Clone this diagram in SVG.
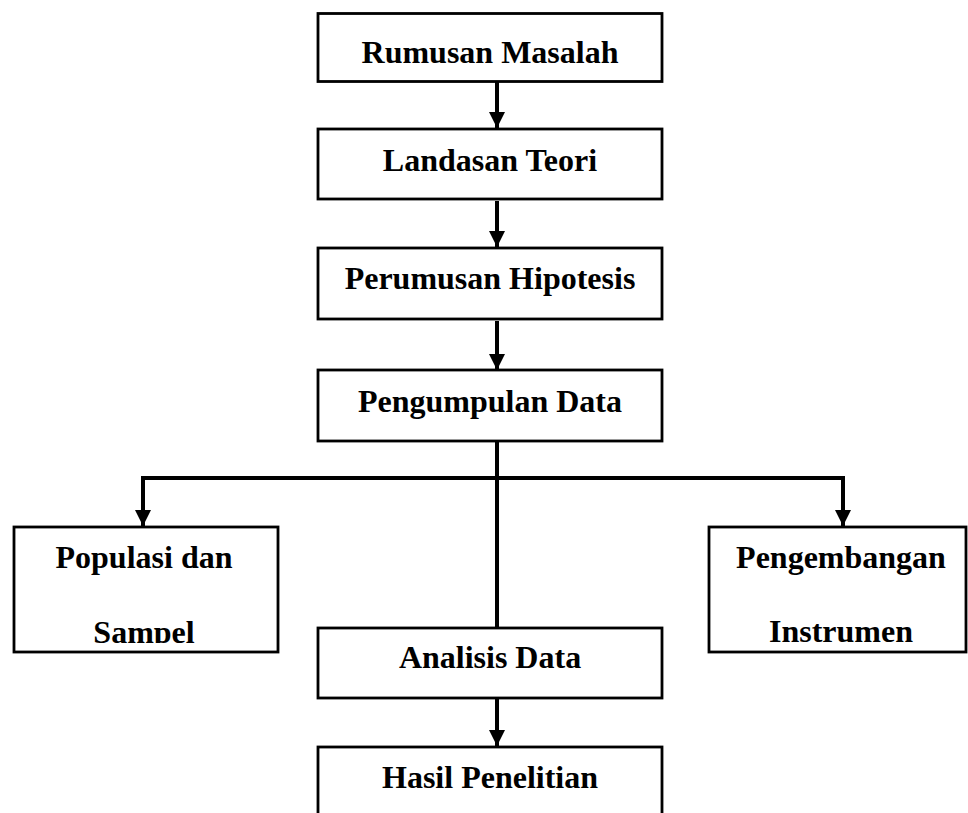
<svg xmlns="http://www.w3.org/2000/svg" width="968" height="813" viewBox="0 0 968 813">
<style>
.box{fill:#fff;stroke:#000;stroke-width:2.8}
.lbl{font-family:"Liberation Serif","Times New Roman",serif;font-weight:bold;font-size:32px;fill:#000;text-anchor:middle}
.con{fill:none;stroke:#000;stroke-width:4}
</style>
<defs>
<marker id="ah" markerUnits="userSpaceOnUse" markerWidth="16" markerHeight="16" refX="16" refY="8" orient="auto">
<path d="M0,0 L16,8 L0,16 Z" fill="#000"/>
</marker>
<clipPath id="clipL"><rect x="0" y="520" width="300" height="123"/></clipPath>
<clipPath id="clipR"><rect x="700" y="520" width="268" height="123"/></clipPath>
</defs>
<rect width="968" height="813" fill="#fff"/>
<g id="connectors">
<line class="con" x1="497" y1="82" x2="497" y2="128" marker-end="url(#ah)"/>
<line class="con" x1="497" y1="201" x2="497" y2="247" marker-end="url(#ah)"/>
<line class="con" x1="497" y1="321" x2="497" y2="370" marker-end="url(#ah)"/>
<line class="con" x1="497" y1="442" x2="497" y2="628"/>
<polyline class="con" points="143,526 143,478 843,478 843,526" stroke-linejoin="miter"/>
<line class="con" x1="143" y1="480" x2="143" y2="526" marker-end="url(#ah)"/>
<line class="con" x1="843" y1="480" x2="843" y2="526" marker-end="url(#ah)"/>
<line class="con" x1="497" y1="699" x2="497" y2="746" marker-end="url(#ah)"/>
</g>
<g id="rumusan">
<rect class="box" x="318" y="13.5" width="344" height="68"/>
<text class="lbl" x="490" y="63">Rumusan Masalah</text>
</g>
<g id="landasan">
<rect class="box" x="318" y="129" width="344" height="70"/>
<text class="lbl" x="490" y="171">Landasan Teori</text>
</g>
<g id="perumusan">
<rect class="box" x="318" y="248" width="344" height="71"/>
<text class="lbl" x="490" y="289">Perumusan Hipotesis</text>
</g>
<g id="pengumpulan">
<rect class="box" x="318" y="370" width="344" height="71"/>
<text class="lbl" x="490" y="412">Pengumpulan Data</text>
</g>
<g id="populasi">
<rect class="box" x="14" y="527" width="264" height="125"/>
<text class="lbl" x="144" y="568">Populasi dan</text>
<text class="lbl" x="144" y="643" clip-path="url(#clipL)">Sampel</text>
</g>
<g id="pengembangan">
<rect class="box" x="709" y="527" width="257" height="125"/>
<text class="lbl" x="841" y="568">Pengembangan</text>
<text class="lbl" x="841" y="642" clip-path="url(#clipR)">Instrumen</text>
</g>
<g id="analisis">
<rect class="box" x="318" y="628" width="344" height="70"/>
<text class="lbl" x="490" y="668">Analisis Data</text>
</g>
<g id="hasil">
<rect class="box" x="318" y="747" width="344" height="80"/>
<text class="lbl" x="490" y="788">Hasil Penelitian</text>
</g>
</svg>
